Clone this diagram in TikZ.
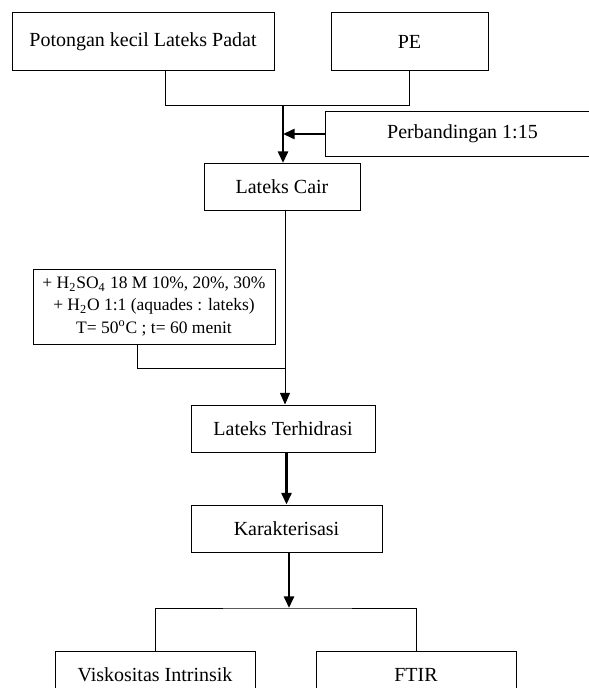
\documentclass[tikz,border=0pt]{standalone}
\usepackage{fontspec}
\setmainfont{Liberation Serif}
\usepackage{tikz}
\usetikzlibrary{arrows.meta, positioning}
\tikzstyle{box} = [rectangle, draw, line width=0.6pt, align=center, inner sep=0pt, font=\fontsize{12}{13.5}\selectfont]
\tikzstyle{arrow} = [-{Triangle[length=7pt, width=6pt]}, line width=1.6pt]
\tikzstyle{thinarrow} = [-{Triangle[length=7pt, width=6pt]}, line width=0.6pt]
\tikzstyle{link} = [line width=0.6pt]

\begin{document}
\begin{tikzpicture}[x=0.6pt, y=-0.6pt]
\clip (0,0) rectangle (589,688);

% first row
\node[box, minimum width=262*0.6pt, minimum height=58*0.6pt] (potong) at (143,42) {Potongan kecil Lateks Padat};
\node[box, minimum width=157*0.6pt, minimum height=58*0.6pt] (pe) at (409.5,42) {PE};
\node[box, minimum width=275*0.6pt, minimum height=45*0.6pt] (banding) at (462.5,134) {Perbandingan 1:15};

% middle
\node[box, minimum width=156*0.6pt, minimum height=47*0.6pt] (cair) at (282,187) {Lateks Cair};
\node[box, minimum width=242*0.6pt, minimum height=75*0.6pt, font=\fontsize{10.5}{13.5}\selectfont] (asam) at (154,306.5) {+ H\textsubscript{2}SO\textsubscript{4} 18 M 10\%, 20\%, 30\%\\+ H\textsubscript{2}O 1:1 (aquades : lateks)\\T= 50\textsuperscript{o}C ; t= 60 menit};
\node[box, minimum width=184*0.6pt, minimum height=47*0.6pt] (hidrasi) at (283,428.5) {Lateks Terhidrasi};
\node[box, minimum width=191*0.6pt, minimum height=47*0.6pt] (karak) at (286.5,528.5) {Karakterisasi};

% bottom row
\node[box, minimum width=200*0.6pt, minimum height=47*0.6pt] (visko) at (155,674.5) {Viskositas Intrinsik};
\node[box, minimum width=200*0.6pt, minimum height=47*0.6pt] (ftir) at (416,674.5) {FTIR};

\coordinate (gabung) at (283,105);
\coordinate (tambah) at (285,368);
\coordinate (cabang) at (289,608);

% connectors
\draw[link] ([xshift=13.2pt]potong.south) -- ++(0,34) -| (pe.south);
\draw[arrow] (gabung) -- (cair.north -| gabung);
\draw[arrow] (banding.west) -- (banding.west -| gabung);
\draw[thinarrow] (cair.south -| tambah) -- (hidrasi.north -| tambah);
\draw[link] ([xshift=-10.2pt]asam.south) |- (tambah);
\draw[arrow] (hidrasi.south -| karak) -- (karak.north);
\draw[arrow] (karak.south -| cabang) -- (cabang);
\draw[link] (visko.north) |- (cabang) -| (ftir.north);

\end{tikzpicture}
\end{document}
